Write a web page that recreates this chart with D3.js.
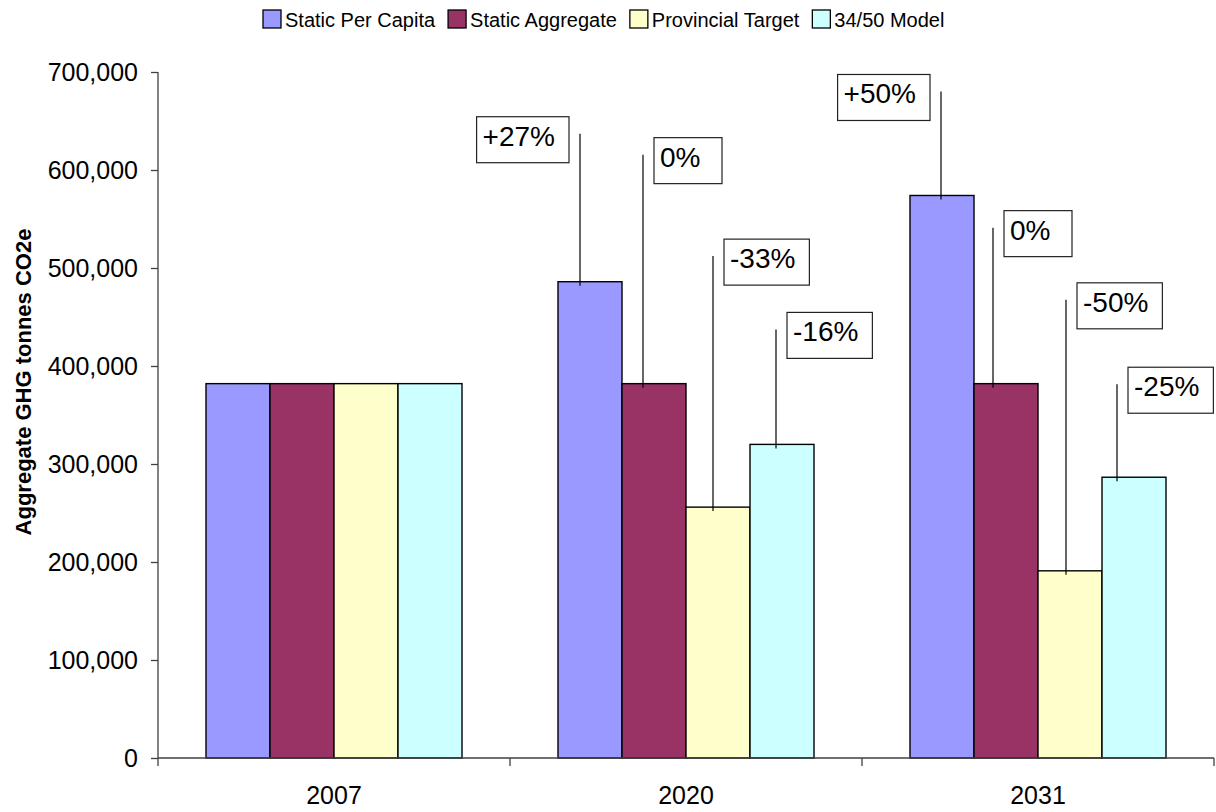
<!DOCTYPE html>
<html>
<head>
<meta charset="utf-8">
<script src="https://cdn.jsdelivr.net/npm/d3@7"></script>
<style>
  body { margin: 0; background: #fff; }
  svg { font-family: "Liberation Sans", Arial, sans-serif; }
</style>
</head>
<body>
<div id="chart"></div>
<script>
const categories = ["2007", "2020", "2031"];
const seriesNames = ["Static Per Capita", "Static Aggregate", "Provincial Target", "34/50 Model"];
const staticPerCapita = [382000, 486000, 574000];
const staticAggregate = [382000, 382000, 382000];
const provincialTarget = [382000, 256000, 191000];
const model3450 = [382000, 320000, 286500];
const yTicks = [0, 100000, 200000, 300000, 400000, 500000, 600000, 700000];

// change labels for 2020 and 2031, one per series
const changeLabels = [
  ["+27%", "0%", "-33%", "-16%"],
  ["+50%", "0%", "-50%", "-25%"]
];

const colors = ["#9999ff", "#993366", "#ffffcc", "#ccffff"];
const allSeries = [staticPerCapita, staticAggregate, provincialTarget, model3450];

// callout placement: leader offset from bar centre, leader length above bar, box side
const calloutLayout = [
  [{dx: -10, len: 148, side: "left"}, {dx: -11, len: 229, side: "right"}, {dx: -5, len: 251, side: "right"}, {dx: -6, len: 115, side: "right"}],
  [{dx: -1, len: 104, side: "left"}, {dx: -13, len: 156, side: "right"}, {dx: -4, len: 271, side: "right"}, {dx: -17, len: 93, side: "right"}]
];

const width = 1216, height = 812;
const margin = {top: 72, right: 2, bottom: 54, left: 158};

const svg = d3.select("#chart").append("svg")
  .attr("width", width)
  .attr("height", height);

const x0 = d3.scaleBand()
  .domain(categories)
  .range([margin.left, width - margin.right])
  .paddingInner(0)
  .paddingOuter(0);

const x1 = d3.scaleBand()
  .domain(seriesNames)
  .range([0, x0.bandwidth()])
  .paddingInner(0)
  .paddingOuter(0.75);

const y = d3.scaleLinear()
  .domain([0, 700000])
  .range([height - margin.bottom, margin.top]);

// bars
const groups = svg.selectAll(".cat")
  .data(categories)
  .enter().append("g")
  .attr("class", "cat")
  .attr("transform", d => "translate(" + x0(d) + ",0)");

groups.selectAll("rect")
  .data((c, i) => seriesNames.map((s, j) => ({s: s, j: j, v: allSeries[j][i]})))
  .enter().append("rect")
  .attr("x", d => x1(d.s))
  .attr("y", d => y(d.v))
  .attr("width", x1.bandwidth())
  .attr("height", d => y(0) - y(d.v))
  .attr("fill", d => colors[d.j])
  .attr("stroke", "#000")
  .attr("stroke-width", 1.4);

// y axis
const yAxis = svg.append("g")
  .attr("transform", "translate(" + margin.left + ",0)")
  .call(d3.axisLeft(y).tickValues(yTicks).tickFormat(d3.format(",")).tickSize(7).tickSizeOuter(0));
yAxis.select(".domain").remove();
yAxis.selectAll("line").attr("stroke", "#404040").attr("stroke-width", 1.3);
yAxis.selectAll("text")
  .attr("x", -20)
  .attr("font-size", 25)
  .attr("fill", "#000")
  .attr("font-family", "Liberation Sans, Arial, sans-serif");

svg.append("line")
  .attr("x1", margin.left).attr("x2", margin.left)
  .attr("y1", y(700000)).attr("y2", y(0) + 8)
  .attr("stroke", "#404040").attr("stroke-width", 1.3);

// x axis
svg.append("line")
  .attr("x1", margin.left).attr("x2", width - margin.right)
  .attr("y1", y(0)).attr("y2", y(0))
  .attr("stroke", "#404040").attr("stroke-width", 1.3);

const bounds = categories.map(c => x0(c)).concat([x0(categories[categories.length - 1]) + x0.bandwidth()]);
svg.selectAll(".xtick")
  .data(bounds.slice(1))
  .enter().append("line")
  .attr("x1", d => d).attr("x2", d => d)
  .attr("y1", y(0)).attr("y2", y(0) + 8)
  .attr("stroke", "#404040").attr("stroke-width", 1.3);

svg.selectAll(".xlabel")
  .data(categories)
  .enter().append("text")
  .attr("x", d => x0(d) + x0.bandwidth() / 2)
  .attr("y", y(0) + 46)
  .attr("text-anchor", "middle")
  .attr("font-size", 25)
  .text(d => d);

// y title
svg.append("text")
  .attr("transform", "translate(31,382) rotate(-90)")
  .attr("text-anchor", "middle")
  .attr("font-size", 22)
  .attr("font-weight", "bold")
  .text("Aggregate GHG tonnes CO2e");

// callouts
categories.slice(1).forEach((c, ci) => {
  const i = ci + 1;
  seriesNames.forEach((s, j) => {
    const lay = calloutLayout[ci][j];
    const barTop = y(allSeries[j][i]);
    const lx = x0(c) + x1(s) + x1.bandwidth() / 2 + lay.dx;
    const lineTop = barTop - lay.len;
    svg.append("line")
      .attr("x1", lx).attr("x2", lx)
      .attr("y1", lineTop).attr("y2", barTop + 4)
      .attr("stroke", "#000").attr("stroke-width", 1.2);

    const g = svg.append("g");
    const t = g.append("text")
      .attr("font-size", 28)
      .text(changeLabels[ci][j]);
    const tw = t.node().getComputedTextLength();
    const bw = Math.max(tw + 20, 68);
    const bx = lay.side === "left" ? lx - 11 - bw : lx + 11;
    const by = lineTop - 17;
    g.insert("rect", "text")
      .attr("x", bx).attr("y", by)
      .attr("width", bw).attr("height", 46)
      .attr("fill", "#fff")
      .attr("stroke", "#222")
      .attr("stroke-width", 1.2);
    t.attr("x", bx + 6).attr("y", by + 29);
  });
});

// legend
const legend = svg.append("g").attr("transform", "translate(263,0)");
let lx = 0;
seriesNames.forEach((s, j) => {
  legend.append("rect")
    .attr("x", lx).attr("y", 10)
    .attr("width", 18).attr("height", 18)
    .attr("fill", colors[j])
    .attr("stroke", "#000")
    .attr("stroke-width", 1.3);
  const t = legend.append("text")
    .attr("x", lx + 22).attr("y", 27)
    .attr("font-size", 20)
    .text(s);
  lx += 22 + t.node().getComputedTextLength() + 13;
});
</script>
</body>
</html>
